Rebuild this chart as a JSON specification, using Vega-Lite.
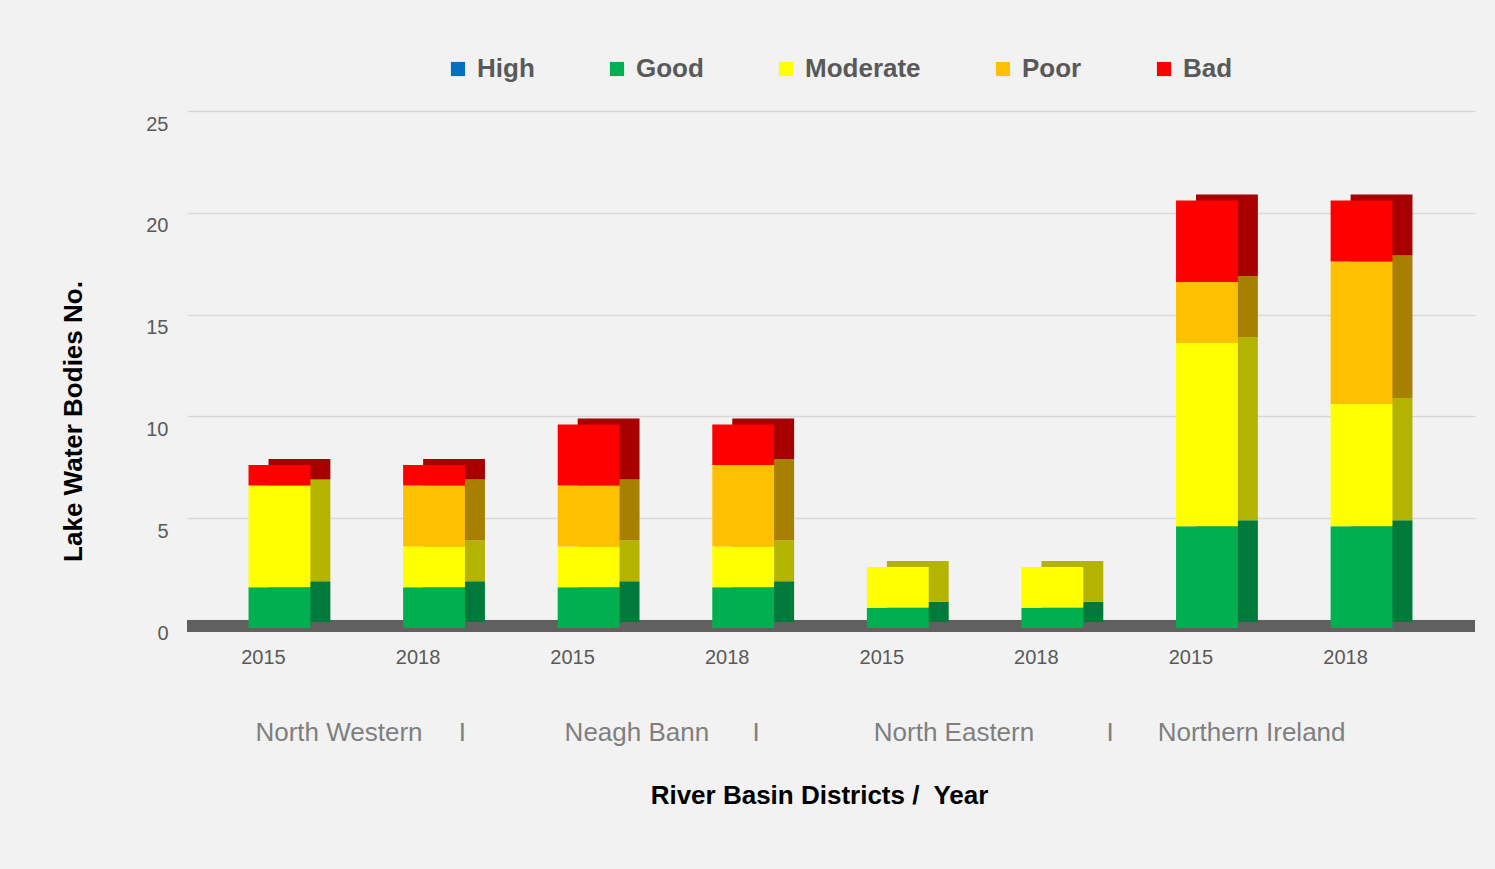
{
  "$schema": "https://vega.github.io/schema/vega-lite/v6.json",
  "width": 1288,
  "height": 509,
  "autosize": "none",
  "padding": {"left": 187, "top": 111, "right": 20, "bottom": 249},
  "background": "#f2f2f2",
  "config": {"view": {"stroke": null}, "font": "Liberation Sans"},
  "datasets": {
    "bars": [
      {"bar": "North Western 2015", "status": "Good", "class": 2, "value": 2},
      {"bar": "North Western 2015", "status": "Moderate", "class": 3, "value": 5},
      {"bar": "North Western 2015", "status": "Bad", "class": 5, "value": 1},
      {"bar": "North Western 2018", "status": "Good", "class": 2, "value": 2},
      {"bar": "North Western 2018", "status": "Moderate", "class": 3, "value": 2},
      {"bar": "North Western 2018", "status": "Poor", "class": 4, "value": 3},
      {"bar": "North Western 2018", "status": "Bad", "class": 5, "value": 1},
      {"bar": "Neagh Bann 2015", "status": "Good", "class": 2, "value": 2},
      {"bar": "Neagh Bann 2015", "status": "Moderate", "class": 3, "value": 2},
      {"bar": "Neagh Bann 2015", "status": "Poor", "class": 4, "value": 3},
      {"bar": "Neagh Bann 2015", "status": "Bad", "class": 5, "value": 3},
      {"bar": "Neagh Bann 2018", "status": "Good", "class": 2, "value": 2},
      {"bar": "Neagh Bann 2018", "status": "Moderate", "class": 3, "value": 2},
      {"bar": "Neagh Bann 2018", "status": "Poor", "class": 4, "value": 4},
      {"bar": "Neagh Bann 2018", "status": "Bad", "class": 5, "value": 2},
      {"bar": "North Eastern 2015", "status": "Good", "class": 2, "value": 1},
      {"bar": "North Eastern 2015", "status": "Moderate", "class": 3, "value": 2},
      {"bar": "North Eastern 2018", "status": "Good", "class": 2, "value": 1},
      {"bar": "North Eastern 2018", "status": "Moderate", "class": 3, "value": 2},
      {"bar": "Northern Ireland 2015", "status": "Good", "class": 2, "value": 5},
      {"bar": "Northern Ireland 2015", "status": "Moderate", "class": 3, "value": 9},
      {"bar": "Northern Ireland 2015", "status": "Poor", "class": 4, "value": 3},
      {"bar": "Northern Ireland 2015", "status": "Bad", "class": 5, "value": 4},
      {"bar": "Northern Ireland 2018", "status": "Good", "class": 2, "value": 5},
      {"bar": "Northern Ireland 2018", "status": "Moderate", "class": 3, "value": 6},
      {"bar": "Northern Ireland 2018", "status": "Poor", "class": 4, "value": 7},
      {"bar": "Northern Ireland 2018", "status": "Bad", "class": 5, "value": 3}
    ],
    "groups": [
      {"bar": "North Western 2015", "label": "North Western\u00a0\u00a0\u00a0\u00a0\u00a0I"},
      {"bar": "Neagh Bann 2015", "label": "Neagh Bann\u00a0\u00a0\u00a0\u00a0\u00a0\u00a0I"},
      {"bar": "North Eastern 2015", "label": "North Eastern\u00a0\u00a0\u00a0\u00a0\u00a0\u00a0\u00a0\u00a0\u00a0\u00a0I"}
    ],
    "lastgroup": [
      {"bar": "Northern Ireland 2018", "label": "Northern Ireland"}
    ]
  },
  "layer": [
    {
      "data": {"values": [{}]},
      "mark": {"type": "rule", "color": "#606060", "strokeWidth": 12, "yOffset": 6},
      "encoding": {"y": {"datum": 0, "type": "quantitative"}}
    },
    {
      "data": {"name": "bars"},
      "mark": {"type": "bar", "xOffset": 36, "yOffset": 2, "y2Offset": 2},
      "encoding": {
        "x": {"field": "bar", "type": "nominal", "sort": null},
        "y": {"field": "value", "type": "quantitative", "stack": "zero"},
        "order": {"field": "class", "type": "quantitative", "sort": "ascending"},
        "fill": {
          "field": "status", "type": "nominal",
          "sort": ["Good", "Moderate", "Poor", "Bad"],
          "scale": {"range": ["#007a3a", "#b3b300", "#a88000", "#a80000"]},
          "legend": null
        }
      }
    },
    {
      "data": {"name": "bars"},
      "mark": {"type": "bar", "xOffset": 16, "yOffset": 8, "y2Offset": 8},
      "encoding": {
        "x": {
          "field": "bar", "type": "nominal", "sort": null,
          "scale": {"paddingInner": 0.6, "paddingOuter": 0.466, "align": 0.316},
          "axis": {
            "title": "River Basin Districts /\u00a0 Year",
            "titleFontSize": 26, "titleFontWeight": "bold", "titleColor": "#000000",
            "titleX": 632, "titleY": 175, "titleBaseline": "middle",
            "labelExpr": "slice(datum.label, -4)",
            "labelAngle": 0, "labelAlign": "center", "labelFontSize": 20, "labelColor": "#595959", "labelPadding": 37,
            "domain": false, "ticks": false
          }
        },
        "y": {
          "field": "value", "type": "quantitative", "stack": "zero",
          "scale": {"domain": [0, 25], "nice": false},
          "axis": {
            "title": "Lake Water Bodies No.",
            "titleFontSize": 26, "titleFontWeight": "bold", "titleColor": "#000000",
            "titleX": -114, "titleY": 310, "titleBaseline": "middle", "titleAlign": "center", "titleAngle": -90,
            "values": [0, 5, 10, 15, 20, 25],
            "labelFontSize": 20, "labelColor": "#595959", "labelPadding": 19, "labelOffset": 13,
            "domain": false, "ticks": false,
            "grid": true, "gridColor": "#d9d9d9", "gridWidth": 1.5
          }
        },
        "order": {"field": "class", "type": "quantitative", "sort": "ascending"},
        "color": {
          "field": "status", "type": "nominal",
          "sort": ["High", "Good", "Moderate", "Poor", "Bad"],
          "scale": {"domain": ["High", "Good", "Moderate", "Poor", "Bad"], "range": ["#0070c0", "#00b050", "#ffff00", "#ffc000", "#ff0000"]},
          "legend": {
            "title": null, "orient": "none", "legendX": 258, "legendY": -55,
            "direction": "horizontal", "columns": 5, "columnPadding": 69,
            "symbolType": "square", "symbolSize": 200, "symbolStrokeWidth": 0,
            "labelFontSize": 26, "labelFontWeight": "bold", "labelColor": "#595959", "labelOffset": 6
          }
        }
      }
    },
    {
      "data": {"name": "groups"},
      "mark": {"type": "text", "align": "left", "baseline": "middle", "dx": -8, "dy": 113, "fontSize": 26, "color": "#7f7f7f"},
      "encoding": {
        "x": {"field": "bar", "type": "nominal", "sort": null},
        "y": {"datum": 0, "type": "quantitative"},
        "text": {"field": "label"}
      }
    },
    {
      "data": {"name": "lastgroup"},
      "mark": {"type": "text", "align": "right", "baseline": "middle", "dx": 0, "dy": 113, "fontSize": 26, "color": "#7f7f7f"},
      "encoding": {
        "x": {"field": "bar", "type": "nominal", "sort": null},
        "y": {"datum": 0, "type": "quantitative"},
        "text": {"field": "label"}
      }
    }
  ]
}
